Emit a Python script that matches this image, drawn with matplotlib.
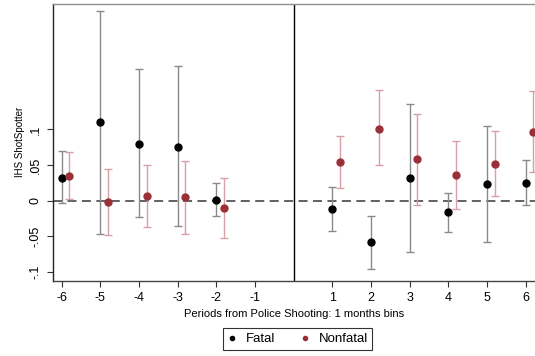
import numpy as np
import matplotlib.pyplot as plt

plt.rcParams['font.family'] = ['Liberation Sans', 'DejaVu Sans']

# event-time periods (reference period -1 omitted)
periods = [-6, -5, -4, -3, -2, 1, 2, 3, 4, 5, 6]

fatal_est = [0.032, 0.110, 0.080, 0.075, 0.001, -0.012, -0.058, 0.032, -0.016, 0.023, 0.025]
fatal_lo = [-0.003, -0.046, -0.023, -0.036, -0.022, -0.042, -0.096, -0.072, -0.044, -0.058, -0.006]
fatal_hi = [0.069, 0.265, 0.184, 0.188, 0.025, 0.019, -0.021, 0.136, 0.011, 0.105, 0.057]

nonfatal_est = [0.035, -0.002, 0.007, 0.005, -0.010, 0.054, 0.101, 0.058, 0.036, 0.051, 0.096]
nonfatal_lo = [0.002, -0.048, -0.037, -0.046, -0.052, 0.018, 0.050, -0.006, -0.011, 0.006, 0.040]
nonfatal_hi = [0.068, 0.044, 0.050, 0.056, 0.032, 0.091, 0.155, 0.122, 0.083, 0.097, 0.153]

xticks = [-6, -5, -4, -3, -2, -1, 1, 2, 3, 4, 5, 6]
yticks = [-0.1, -0.05, 0, 0.05, 0.1]
ytick_labels = ['-.1', '-.05', '0', '.05', '.1']

fat_col = 'black'
nf_col = '#9b2f38'

fig = plt.figure(figsize=(5.35, 3.56), dpi=100)
ax = fig.add_axes([0.0985, 0.2115, 0.9015, 0.7773])

x = np.array(periods, dtype=float)
fe = np.array(fatal_est)
ne = np.array(nonfatal_est)
f_err = [fe - np.array(fatal_lo), np.array(fatal_hi) - fe]
n_err = [ne - np.array(nonfatal_lo), np.array(nonfatal_hi) - ne]

ax.axhline(0, color='#555555', lw=1.3, ls=(0, (5, 3)), zorder=1)
ax.axvline(0, color='black', lw=1.0, zorder=1)

ax.errorbar(x, fe, yerr=f_err, fmt='none', ecolor='#8a8a8a', elinewidth=1.0,
            capsize=2.6, capthick=1.0, zorder=2)
ax.errorbar(x + 0.2, ne, yerr=n_err, fmt='none', ecolor='#d6a1a6', elinewidth=1.0,
            capsize=2.6, capthick=1.0, zorder=2)
ax.plot(x, fe, 'o', color=fat_col, ms=5, label='Fatal', zorder=3)
ax.plot(x + 0.2, ne, 'o', color=nf_col, ms=5, label='Nonfatal', zorder=3)

ax.set_xlim(-6.233, 6.24)
ax.set_ylim(-0.112, 0.2755)

ax.set_xticks(xticks)
ax.set_xticklabels([str(t) for t in xticks], fontsize=9)
ax.set_yticks(yticks)
ax.set_yticklabels(ytick_labels, fontsize=9, rotation=90, va='center')
ax.tick_params(axis='both', direction='out', length=4, width=0.8, color='#333333', pad=4)

ax.spines['right'].set_visible(False)
ax.spines['top'].set_color('#909090')
ax.spines['left'].set_color('#222222')
ax.spines['bottom'].set_color('#444444')
for s in ax.spines.values():
    s.set_linewidth(1.0)

ax.set_ylabel('IHS ShotSpotter', fontsize=7, labelpad=3)
ax.set_xlabel('Periods from Police Shooting: 1 months bins', fontsize=8, labelpad=4)

leg = fig.legend(loc='center', bbox_to_anchor=(297.5 / 535, 1 - 339 / 356), ncol=2,
                 fontsize=9.5, frameon=True, fancybox=False, markerscale=0.6,
                 handlelength=0.8, handletextpad=0.6, columnspacing=1.9,
                 borderpad=0.35)
leg.get_frame().set_edgecolor('black')
leg.get_frame().set_linewidth(0.8)

plt.savefig('out.png', dpi=100)
